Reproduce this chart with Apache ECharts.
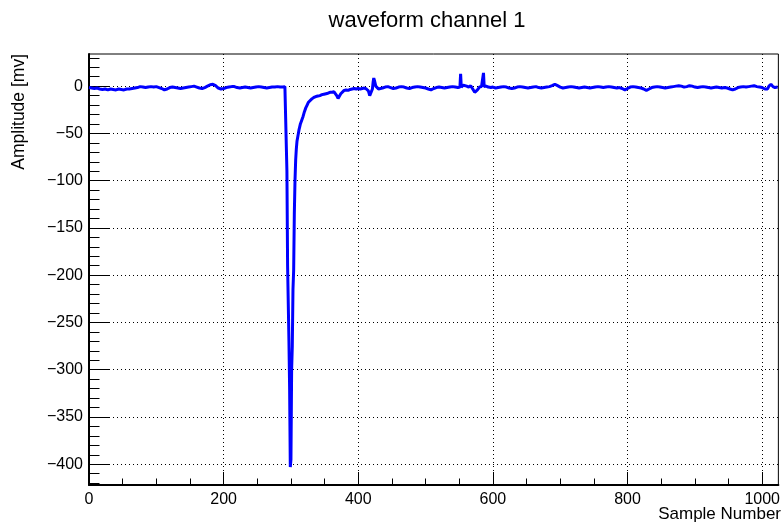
<!DOCTYPE html>
<html>
<head>
<meta charset="utf-8">
<script src="https://cdn.jsdelivr.net/npm/echarts@6/dist/echarts.min.js"></script>
<style>
html, body { margin: 0; padding: 0; background: #fff; }
#waveChart { width: 783px; height: 525px; }
</style>
</head>
<body>
<div id="waveChart"></div>
<script>
// sample index of each point (denser around the pulse and the spikes)
const samples = [
    0, 4, 8, 12, 16, 20, 24, 28, 32, 36, 40, 44, 48, 52, 56, 60, 64, 68, 72, 76, 80, 84, 88, 92, 96,
    100, 104, 108, 112, 116, 120, 124, 128, 132, 136, 140, 144, 148, 152, 156, 160, 164, 168, 172, 176, 180, 184, 188, 192, 196,
    200, 204, 208, 212, 216, 220, 224, 228, 232, 236, 240, 244, 248, 252, 256, 260, 264, 268, 272, 276, 280, 284, 288,
    291, 293, 294, 295, 296, 297, 298, 299, 300, 301, 302, 303, 304, 305, 306, 307, 308, 309, 310, 311, 312, 313, 314,
    316, 318, 320, 322, 324, 326, 328, 331, 334, 337, 340, 343, 346, 349, 352, 355, 358, 361, 364, 366, 368, 370, 372, 374, 376, 379, 382, 385, 388, 391, 394, 397, 400,
    403, 406, 409, 412, 415, 417, 419, 421, 422, 423, 424, 426, 428, 430, 433,
    436, 440, 444, 448, 452, 456, 460, 464, 468, 472, 476, 480, 484, 488, 492, 496, 500, 504, 508, 512, 516, 520, 524, 528, 532, 536, 540, 544, 548,
    551, 552, 553, 556, 558, 561, 564, 567, 570, 573, 575, 577, 580, 583, 585, 586, 587, 590, 593, 597, 600,
    604, 608, 612, 616, 620, 624, 628, 632, 636, 640,
    644, 648, 652, 656, 660, 664, 668, 672, 676, 680,
    684, 688, 692, 696, 700, 704, 708, 712, 716, 720,
    724, 728, 732, 736, 740, 744, 748, 752, 756, 760,
    764, 768, 772, 776, 780, 784, 788, 792, 796, 800,
    804, 808, 812, 816, 820, 824, 828, 832, 836, 840,
    844, 848, 852, 856, 860, 864, 868, 872, 876, 880,
    884, 888, 892, 896, 900, 904, 908, 912, 916, 920,
    924, 928, 932, 936, 940, 944, 948, 952, 956, 960,
    964, 968, 972, 976, 980, 984, 988, 992, 996, 1000,
    1004, 1006, 1008, 1010, 1013, 1016, 1019, 1023
]
// amplitude in mV, same order as samples
const amplitude = [
    -1.5, -2, -2.5, -2, -3, -3.5, -3, -4, -3, -3.5, -4, -3, -3.5, -4, -3, -3, -2.5, -2, -1.5, -0.5, -1, -1.5, -1, -0.5, -1,
    -0.5, -1.5, -2.5, -4, -3, -1.5, -1, -1.5, -2, -2.5, -2, -1.5, -1, -0.5, 0, -1, -2, -2.5, -1.5, 0, 1.5, 2, 0.5, -2, -3,
    -2.5, -1.5, -1, -0.5, -0.5, -1.5, -2, -1.5, -1, -1.5, -2, -1.5, -1, -0.5, -1, -1.5, -2, -1.5, -1, -1, -0.5, -1, -1,
    -0.5, -1.5, -90, -190, -230, -270, -320, -403, -395, -300, -275, -215, -195, -135, -100, -78, -66, -58, -54, -50, -46, -43, -40,
    -36, -32, -27, -23, -20, -17, -15, -13.5, -12, -11, -10.5, -10, -9, -8.5, -8, -7.5, -6.5, -6.5, -6, -7.5, -10, -13, -12, -8, -6, -4.5, -4, -4.5, -3.5, -3, -2.5, -3, -2.5,
    -3, -2.5, -2, -3, -5, -10, -12, -3, 4, 8.5, 6, 0, -2, -3, -2.5,
    -2, -1, -0.5, -1.5, -2.5, -2, -1, -0.5, -1, -2, -2.5, -1.5, -1, -0.5, -1, -1.5, -2, -3, -4, -2.5, -1.5, -1, -1.5, -2, -1.5, -1, -0.5, -1, -1.5,
    -1, 13, -1, 1, 2.5, 0, -1, 0.5, -3, -6.5, -7, -4, -1, -0.5, -1, 14, -0.5, 0, -1, -1.5, -1,
    -2, -1.5, -1, -0.5, -1, -2, -2.5, -2, -1, -0.5,
    -1, -1.5, -2, -1.5, -1, -0.5, -1.5, -2, -1.5, -1,
    -0.5, 0.5, 2, 0.5, -1, -2, -1.5, -1, -0.5, -1,
    -1.5, -2, -1.5, -1, -1.5, -2, -1.5, -1, -0.5, -1,
    -1.5, -1, -0.5, -1, -1.5, -2, -1.5, -2.5, -4, -2.5,
    -1, -0.5, -1, -1.5, -2, -3, -4.5, -3, -1.5, -1,
    -0.5, -1, -1.5, -2, -1.5, -1, -0.5, 0, 0.5, 0,
    -1, -0.5, 0.5, 0, -1, -1.5, -1, -0.5, -1, -1.5,
    -2, -1.5, -1, -1.5, -2, -1.5, -2, -3, -4, -3,
    -1.5, -1, -0.5, -1, -0.5, 0, 0.5, -0.5, -1, -1.5,
    -3, -5, -3, 0, 2, -0.5, -1.5, -1
]

// axis ticks (ROOT style: labelled major ticks + small minor ticks)
const xMajorTicks = [0, 200, 400, 600, 800, 1000]
const xMinorTicks = [0, 50, 100, 150, 200, 250, 300, 350, 400, 450, 500, 550, 600, 650, 700, 750, 800, 850, 900, 950, 1000]
const yMajorTicks = [0, -50, -100, -150, -200, -250, -300, -350, -400]
const yMinorTicks = [30, 20, 10, 0, -10, -20, -30, -40, -50, -60, -70, -80, -90, -100, -110, -120, -130, -140, -150, -160, -170,
    -180, -190, -200, -210, -220, -230, -240, -250, -260, -270, -280, -290, -300, -310, -320, -330, -340, -350, -360, -370,
    -380, -390, -400, -410, -420]

const font = 'Liberation Sans, Arial, Helvetica, sans-serif'

const waveChart = echarts.init(document.getElementById('waveChart'))

const minus = function (v) {
    return v < 0 ? '\u2212' + (-v) : String(v)
}

waveChart.setOption({
    backgroundColor: '#fff',
    animation: false,
    grid: {
        left: 89,
        right: 1,
        top: 54,
        bottom: 40,
        show: true,
        borderColor: '#000',
        borderWidth: 1
    },
    graphic: [
        {
            type: 'text',
            x: 427,
            y: 21,
            style: {
                text: 'waveform channel 1',
                font: '22px ' + font,
                fill: '#000',
                textAlign: 'center',
                textVerticalAlign: 'middle'
            }
        },
        {
            type: 'text',
            x: 781,
            y: 514,
            style: {
                text: 'Sample Number',
                font: '17px ' + font,
                fill: '#000',
                textAlign: 'right',
                textVerticalAlign: 'middle'
            }
        },
        {
            type: 'text',
            x: 19,
            y: 54,
            rotation: Math.PI / 2,
            style: {
                text: 'Amplitude [mv]',
                font: '17.5px ' + font,
                fill: '#000',
                textAlign: 'right',
                textVerticalAlign: 'middle'
            }
        }
    ],
    xAxis: [
        {
            type: 'value',
            min: 0,
            max: 1024,
            interval: 200,
            position: 'bottom',
            axisLine: { onZero: false, lineStyle: { color: '#000', width: 2 } },
            axisTick: { inside: true, length: 13, customValues: xMajorTicks, lineStyle: { color: '#000' } },
            axisLabel: {
                customValues: xMajorTicks,
                formatter: function (v) { return String(v) },
                margin: 7,
                color: '#000',
                fontSize: 16,
                fontFamily: font
            },
            splitLine: { show: true, lineStyle: { color: '#000', type: [1, 3], width: 1 } }
        },
        {
            type: 'value',
            min: 0,
            max: 1024,
            position: 'bottom',
            axisLine: { show: false, onZero: false },
            axisTick: { inside: true, length: 6.5, customValues: xMinorTicks, lineStyle: { color: '#000' } },
            axisLabel: { show: false },
            splitLine: { show: false }
        }
    ],
    yAxis: [
        {
            type: 'value',
            min: -422,
            max: 34,
            position: 'left',
            axisLine: { show: true, onZero: false, lineStyle: { color: '#000', width: 2 } },
            axisTick: { show: true, inside: true, length: 21, customValues: yMajorTicks, lineStyle: { color: '#000' } },
            axisLabel: {
                customValues: yMajorTicks,
                formatter: minus,
                margin: 6,
                color: '#000',
                fontSize: 16,
                fontFamily: font
            },
            splitLine: { show: true, lineStyle: { color: '#000', type: [1, 3], width: 1 } }
        },
        {
            type: 'value',
            min: -422,
            max: 34,
            position: 'left',
            axisLine: { show: false, onZero: false },
            axisTick: { show: true, inside: true, length: 10.5, customValues: yMinorTicks, lineStyle: { color: '#000' } },
            axisLabel: { show: false },
            splitLine: { show: false }
        }
    ],
    series: [
        {
            name: 'channel 1',
            type: 'line',
            xAxisIndex: 0,
            yAxisIndex: 0,
            showSymbol: false,
            lineStyle: { color: '#0000ff', width: 3 },
            data: samples.map(function (s, i) { return [s, amplitude[i]] })
        }
    ]
})
</script>
</body>
</html>
